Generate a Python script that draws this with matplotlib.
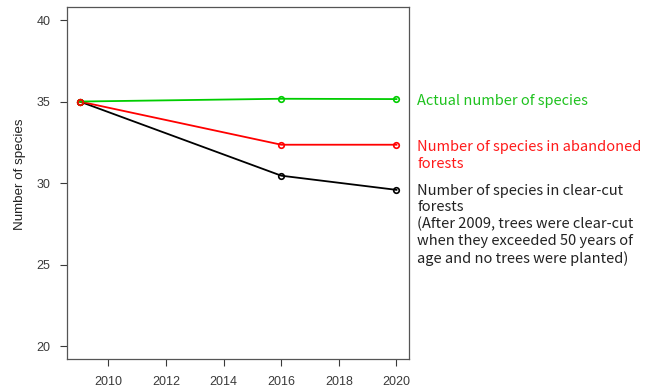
import matplotlib.pyplot as plt

# ── Data ─────────────────────────────────────────────────────────
years = [2009, 2016, 2020]
actual = [35.0, 35.17, 35.15]
abandoned = [35.0, 32.35, 32.35]
clearcut = [35.0, 30.45, 29.58]

y_ticks = [20, 25, 30, 35, 40]
x_ticks = [2010, 2012, 2014, 2016, 2018, 2020]

labels = [
    ("Actual number of species", actual[-1], "#1fc21f", -1.5),
    ("Number of species in abandoned\nforests", abandoned[-1], "#ff1a1a", 3.2),
    ("Number of species in clear-cut\nforests\n(After 2009, trees were clear-cut\n"
     "when they exceeded 50 years of\nage and no trees were planted)", clearcut[-1], "#222222", 4.5),
]

plt.rcParams['font.family'] = ['Liberation Sans', 'DejaVu Sans']

# ── Plot ─────────────────────────────────────────────────────────
fig = plt.figure(figsize=(6.61, 3.89), dpi=100)
ax = fig.add_axes([0.1014, 0.077, 0.5176, 0.905])

for vals, col in [(clearcut, "black"), (abandoned, "#ff0000"), (actual, "#00cd00")]:
    ax.plot(years, vals, color=col, lw=1.3, marker='o', ms=4,
            mfc='none', mew=1.2)
# first point drawn red on top, as in the original
ax.plot(years[:1], abandoned[:1], 'o', color="#ff0000", ms=4, mfc='none', mew=1.2)

ax.set_xlim(2008.56, 2020.44)
ax.set_ylim(19.2, 40.8)
ax.set_xticks(x_ticks)
ax.set_yticks(y_ticks)
ax.tick_params(labelsize=9, colors='#3a3a3a', length=5, width=0.8)
ax.tick_params(axis='x', pad=7)
ax.tick_params(axis='y', pad=7)
ax.set_ylabel("Number of species", fontsize=9.6, color='#222222')
ax.yaxis.set_label_coords(-0.12, 0.526)
for s in ax.spines.values():
    s.set_color('#555555')
    s.set_linewidth(0.9)

# ── Labels on the right ──────────────────────────────────────────
for txt, yv, col, dy in labels:
    ax.annotate(txt, xy=(1, yv), xycoords=('axes fraction', 'data'),
                xytext=(6, dy), textcoords='offset points',
                va='top' if '\n' in txt else 'center', ha='left',
                fontsize=10.5, color=col, family=['Noto Sans CJK JP', 'DejaVu Sans'],
                linespacing=1.24, annotation_clip=False)

# ── Export ───────────────────────────────────────────────────────
fig.savefig('out.png', dpi=100)
